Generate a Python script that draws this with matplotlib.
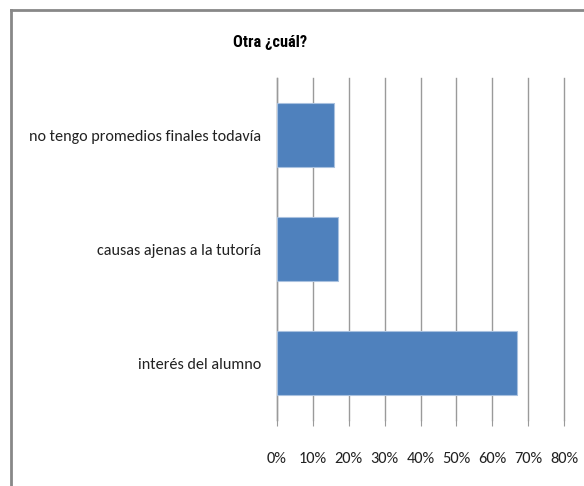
import matplotlib
matplotlib.use("Agg")
import matplotlib.pyplot as plt
from matplotlib import font_manager
from matplotlib.lines import Line2D

categories = ["interés del alumno", "causas ajenas a la tutoría", "no tengo promedios finales todavía"]
values = [0.67, 0.17, 0.16]
tick_values = [0, 0.1, 0.2, 0.3, 0.4, 0.5, 0.6, 0.7, 0.8]
tick_labels = ["0%", "10%", "20%", "30%", "40%", "50%", "60%", "70%", "80%"]
title = "Otra ¿cuál?"

fonts = font_manager.fontManager.ttflist
names = {f.name for f in fonts}
bold_names = {f.name for f in fonts if (f.weight if isinstance(f.weight, int) else 400) >= 700 or f.weight == "bold"}


def pick(prefs, need_bold=False):
    for p in prefs:
        if p in names and (not need_bold or p in bold_names):
            return p
    return "DejaVu Sans"


label_font = pick(["Carlito", "Open Sans Condensed", "Roboto Condensed", "Barlow Semi Condensed", "Liberation Sans"])
title_font = pick(["Liberation Sans Narrow", "Roboto Condensed", "Archivo Narrow", "Barlow Condensed", "Liberation Sans"], need_bold=True)
plt.rcParams['font.family'] = [label_font, 'DejaVu Sans']

fig = plt.figure(figsize=(5.84, 4.86), dpi=100)
W, H = 584, 486
ax = fig.add_axes([277 / W, (H - 420) / H, (564 - 277) / W, (420 - 78) / H])

ax.barh(range(len(categories)), values, height=0.57, color="#4F81BD",
        edgecolor="#a9c1df", linewidth=0.8, zorder=3)
ax.set_xlim(0, 0.8)
ax.set_ylim(-0.5, len(categories) - 0.5)
ax.set_yticks(range(len(categories)))
ax.set_yticklabels(categories, fontsize=11.6, color="#222222")
ax.set_xticks(tick_values)
ax.set_xticklabels(tick_labels, fontsize=11.8, color="#222222")
ax.grid(axis="x", color="#9a9a9a", linewidth=1.0, zorder=0)
for gl in ax.get_xgridlines():
    gl.set_clip_on(False)
for s in ["top", "right", "bottom"]:
    ax.spines[s].set_visible(False)
ax.spines["left"].set_color("#9a9a9a")
ax.spines["left"].set_linewidth(1.0)
ax.tick_params(axis="y", length=0, pad=11.5)
ax.tick_params(axis="x", length=4, color="#9a9a9a", pad=19)

fig.text(270 / W, 1 - 43 / H, title, ha="center", va="center",
         fontsize=11.8, fontweight="bold", color="#000000", family=[title_font, "DejaVu Sans"])

fig.add_artist(Line2D([11 / W, 1], [1 - 10 / H, 1 - 10 / H], transform=fig.transFigure,
                      color="#888888", linewidth=2))
fig.add_artist(Line2D([11 / W, 11 / W], [0, 1 - 10 / H], transform=fig.transFigure,
                      color="#888888", linewidth=2))

fig.savefig("out.png", dpi=100)
